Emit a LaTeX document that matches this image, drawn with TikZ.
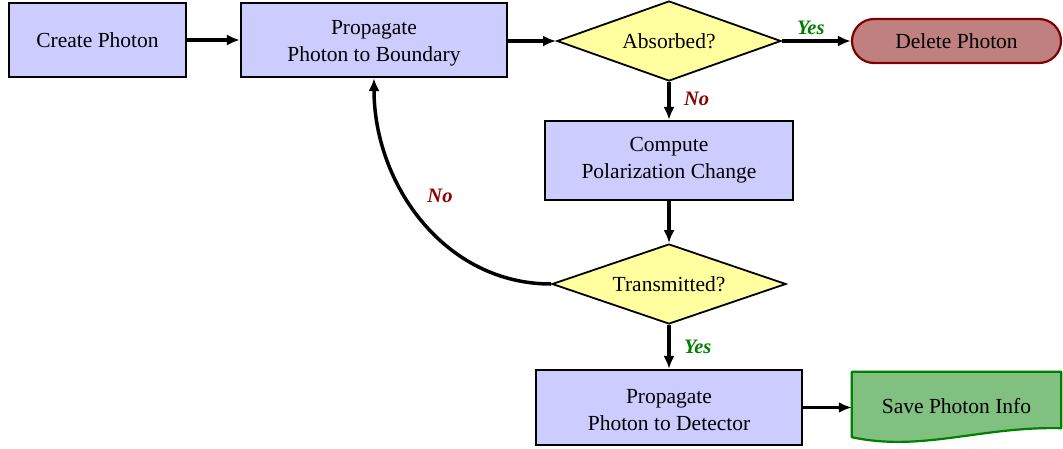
\documentclass[tikz,border=0pt]{standalone}
\usepackage{fontspec}
\setmainfont{Liberation Serif}
\usetikzlibrary{shapes.geometric,arrows.meta,backgrounds,calc}
\definecolor{boxfill}{HTML}{CCCCFF}
\definecolor{diafill}{HTML}{FFFFA0}
\definecolor{delfill}{HTML}{C08080}
\definecolor{deldraw}{HTML}{800000}
\definecolor{savefill}{HTML}{80C080}
\definecolor{savedraw}{HTML}{008000}
\definecolor{yesgreen}{HTML}{008000}
\definecolor{nored}{HTML}{8B0000}
\newcommand{\twolines}[2]{\rule{0pt}{20pt}#1\\#2}
\begin{document}
\begin{tikzpicture}[x=1pt,y=-1pt,
  every node/.style={font=\fontsize{21.5}{27}\selectfont},
  procbox/.style={draw=black,line width=2.2pt,fill=boxfill,align=center,inner sep=0pt},
  decide/.style={diamond,draw=black,line width=1.8pt,fill=diafill,inner sep=0pt,aspect=2.8,minimum width=224pt,minimum height=80pt},
  conn/.style={line width=3.5pt,-{Latex[length=13pt,width=11pt]}},
  yeslab/.style={text=yesgreen,font=\fontsize{20.5}{24}\selectfont\bfseries\itshape},
  nolab/.style={text=nored,font=\fontsize{20.5}{24}\selectfont\bfseries\itshape}]
\useasboundingbox (0,0) rectangle (1063,448);

\node[procbox,minimum width=177pt,minimum height=74pt] (create) at (97.5,40) {Create Photon};
\node[procbox,minimum width=266pt,minimum height=74pt] (prop) at (374,40) {\twolines{Propagate}{Photon to Boundary}};
\node[decide] (abs) at (669,41) {Absorbed?};
\node[draw=deldraw,line width=2.2pt,fill=delfill,rounded corners=22pt,minimum width=209pt,minimum height=44pt,inner sep=0pt] (del) at (956.5,41) {Delete Photon};
\node[procbox,minimum width=248pt,minimum height=79pt] (comp) at (669,160.5) {Compute\\Polarization Change};
\node[decide,aspect=2.9,minimum width=234pt] (trans) at (669,284) {Transmitted?};
\node[procbox,minimum width=266pt,minimum height=75pt] (det) at (669,407.5) {\twolines{Propagate}{Photon to Detector}};
\node[minimum width=209pt,minimum height=68pt,inner sep=0pt] (save) at (956.5,406) {Save Photon Info};
\begin{scope}[on background layer]
\draw[draw=savedraw,line width=2.2pt,fill=savefill,line join=round]
  (save.north west) -- (save.north east) -- ([yshift=12pt]save.south east)
  .. controls ([xshift=-80pt,yshift=14pt]save.south east) and ([xshift=70pt,yshift=-12pt]save.south west) ..
  ([yshift=3pt]save.south west) -- cycle;
\end{scope}

\draw[conn] (create.east) -- (create.east -| prop.west);
\draw[conn] (abs.west -| prop.east) -- (abs.west);
\draw[conn] (abs.east) -- node[yeslab,above=1pt,pos=0.42] (yes1) {Yes} (del.west);
\draw[conn] (abs.south) -- node[nolab,right=10pt,pos=0.45] (no1) {No} (comp.north);
\draw[conn] (comp.south) -- (trans.north);
\draw[conn] (trans.south) -- node[yeslab,right=10pt,pos=0.5] (yes2) {Yes} (det.north);
\draw[conn] (trans.west) to[out=180,in=-90] (prop.south);
\node[nolab] (no2) at (440,196) {No};
\draw[conn] (det.east) -- (det.east -| save.west);
\end{tikzpicture}
\end{document}
